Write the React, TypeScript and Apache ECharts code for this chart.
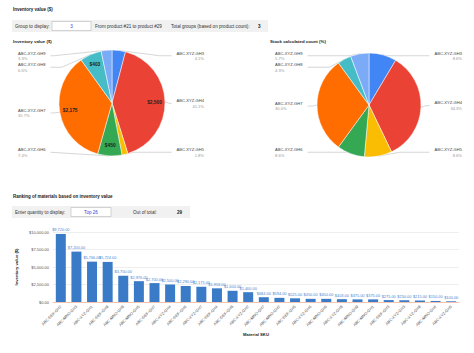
import React, { useEffect, useRef } from "react";
import * as echarts from "echarts";

const pieNames = ["ABC-XYZ-GH3", "ABC-XYZ-GH4", "ABC-XYZ-GH5", "ABC-XYZ-GH6", "ABC-XYZ-GH7", "ABC-XYZ-GH8", "ABC-XYZ-GH9"];
const inventoryValues = [250, 2500, 110, 450, 2175, 403, 200];
const stockCounts = [6, 24, 6, 6, 21, 3, 4];
const pieColors = ["#4285F4", "#EA4335", "#FBBC04", "#34A853", "#FF6D01", "#46BDC6", "#7BAAF7"];

const skuCategories = [
  "ABC-DEF-GH2", "ABC-MNO-GH3", "ABC-XYZ-GH1", "ABC-DEF-GH9", "ABC-MNO-GH8", "ABC-MNO-GH5",
  "ABC-DEF-GH7", "ABC-XYZ-GH4", "ABC-DEF-GH6", "ABC-XYZ-GH7", "ABC-DEF-GH4", "ABC-DEF-GH8",
  "ABC-XYZ-GH2", "ABC-MNO-GH7", "ABC-MNO-GH2", "ABC-DEF-GH5", "ABC-XYZ-GH6", "ABC-MNO-GH6",
  "ABC-XYZ-GH8", "ABC-MNO-GH9", "ABC-MNO-GH1", "ABC-DEF-GH3", "ABC-XYZ-GH3", "ABC-XYZ-GH9",
  "ABC-MNO-GH4", "ABC-XYZ-GH5",
];
const skuValues = [
  9720, 7200, 5766, 5724, 3750, 2976, 2700, 2500, 2290, 2175, 1953, 1600, 1400,
  684, 594, 525, 450, 450, 403, 375, 375, 275, 250, 215, 150, 100,
];
const yTicks = [0, 2500, 5000, 7500, 10000];

const FONT = "Liberation Sans, Arial, sans-serif";

const money2 = (v: number) =>
  "$" + v.toLocaleString("en-US", { minimumFractionDigits: 2, maximumFractionDigits: 2 });
const money0 = (v: number) => "$" + v.toLocaleString("en-US");

export default function App() {
  const ref = useRef<HTMLDivElement>(null);
  useEffect(() => {
    if (!ref.current) return;
    const chart = echarts.init(ref.current, null, { renderer: "svg" });
    const pieLabel = {
      show: true,
      position: "outside",
      alignTo: "edge",
      edgeDistance: 0,
      overflow: "none",
      formatter: (p: any) => `{n|${p.name}}\n{p|${p.percent.toFixed(1)}%}`,
      rich: {
        n: { fontSize: 4.1, color: "#444", fontFamily: FONT, lineHeight: 5.5 },
        p: { fontSize: 4.1, color: "#999", fontFamily: FONT, lineHeight: 5.5 },
      },
    };
    const pieLabelLine = { show: true, length: 5, length2: 5, lineStyle: { color: "#bbb", width: 0.6 } };
    const txt = (x: number, y: number, text: string, opts: any = {}) => ({
      type: "text",
      x,
      y,
      style: {
        text,
        fontSize: opts.size ?? 4.6,
        fontWeight: opts.bold ? "bold" : "normal",
        fill: opts.color ?? "#333",
        fontFamily: FONT,
        textAlign: opts.align ?? "left",
        textVerticalAlign: "middle",
      },
    });
    chart.setOption({
      animation: false,
      backgroundColor: "#ffffff",
      graphic: [
        txt(13, 9, "Inventory value ($)", { bold: true, size: 4.5, color: "#222" }),
        { type: "rect", shape: { x: 12, y: 20, width: 256, height: 12 }, style: { fill: "#f1f1f1" } },
        { type: "rect", shape: { x: 52, y: 21.5, width: 39, height: 9 }, style: { fill: "#fff", stroke: "#b8b8b8", lineWidth: 0.6 } },
        txt(15, 26, "Group to display:"),
        txt(71.5, 26, "3", { color: "#3b3bd6", align: "center" }),
        txt(95, 26, "From product #21 to product #29"),
        txt(171, 26, "Total groups (based on product count):"),
        txt(258, 26, "3", { bold: true, color: "#222" }),
        txt(13, 41, "Inventory value ($)", { bold: true, size: 4.4, color: "#222" }),
        txt(270, 41, "Stock calculated count (%)", { bold: true, size: 4.4, color: "#222" }),
        txt(13, 196, "Ranking of materials based on inventory value", { bold: true, size: 4.5, color: "#222" }),
        { type: "rect", shape: { x: 12, y: 206, width: 178, height: 12 }, style: { fill: "#f1f1f1" } },
        { type: "rect", shape: { x: 71, y: 207.5, width: 40, height: 9 }, style: { fill: "#fff", stroke: "#b8b8b8", lineWidth: 0.6 } },
        txt(15, 212, "Enter quantity to display:"),
        txt(91, 212, "Top 26", { color: "#3b3bd6", align: "center" }),
        txt(133, 212, "Out of total:"),
        txt(177, 212, "29", { bold: true, color: "#222" }),
      ],
      grid: { left: 53, top: 232, width: 406, height: 70 },
      xAxis: {
        type: "category",
        data: skuCategories,
        axisTick: { show: false },
        axisLine: { show: true, lineStyle: { color: "#f2b9a0", width: 0.8 } },
        axisLabel: { rotate: 45, fontSize: 3.9, color: "#555", fontFamily: FONT, interval: 0, margin: 4 },
        name: "Material SKU",
        nameLocation: "middle",
        nameGap: 30,
        nameTextStyle: { fontSize: 4.2, fontWeight: "bold", color: "#222", fontFamily: FONT },
      },
      yAxis: {
        type: "value",
        min: yTicks[0],
        max: yTicks[yTicks.length - 1],
        interval: yTicks[1] - yTicks[0],
        axisLabel: { fontSize: 4, color: "#555", fontFamily: FONT, formatter: (v: number) => money2(v), margin: 4 },
        splitLine: { lineStyle: { color: "#e3e3e3", width: 0.6 } },
        name: "Inventory value ($)",
        nameLocation: "middle",
        nameGap: 29,
        nameTextStyle: { fontSize: 4.2, fontWeight: "bold", color: "#222", fontFamily: FONT },
      },
      series: [
        {
          type: "pie",
          left: 18,
          top: 50,
          width: 186,
          height: 108,
          center: [94, 53],
          radius: 53,
          startAngle: 90,
          clockwise: true,
          data: pieNames.map((n, i) => ({ name: n, value: inventoryValues[i], itemStyle: { color: pieColors[i] } })),
          label: pieLabel,
          labelLine: pieLabelLine,
          itemStyle: { borderColor: "#fff", borderWidth: 0.5 },
          emphasis: { disabled: true },
        },
        {
          type: "pie",
          left: 18,
          top: 50,
          width: 186,
          height: 108,
          center: [94, 53],
          radius: [26, 53],
          startAngle: 90,
          clockwise: true,
          silent: true,
          data: pieNames.map((n, i) => ({ name: n, value: inventoryValues[i] })),
          itemStyle: { color: "rgba(0,0,0,0)" },
          label: {
            show: true,
            position: "inside",
            fontSize: 4.8,
            fontWeight: "bold",
            color: "#222",
            fontFamily: FONT,
            formatter: (p: any) => (p.percent >= 5 ? money0(p.value) : ""),
          },
          labelLine: { show: false },
          emphasis: { disabled: true },
        },
        {
          type: "pie",
          left: 275,
          top: 50,
          width: 187,
          height: 108,
          center: [94, 55],
          radius: 52,
          startAngle: 90,
          clockwise: true,
          data: pieNames.map((n, i) => ({ name: n, value: stockCounts[i], itemStyle: { color: pieColors[i] } })),
          label: pieLabel,
          labelLine: pieLabelLine,
          itemStyle: { borderColor: "#fff", borderWidth: 0.5 },
          emphasis: { disabled: true },
        },
        {
          type: "bar",
          data: skuValues,
          barWidth: 10,
          itemStyle: { color: "#3a7bc8" },
          label: {
            show: true,
            position: "top",
            distance: 2,
            fontSize: 3.9,
            color: "#4a86cf",
            fontFamily: FONT,
            formatter: (p: any) => money2(p.value),
          },
          emphasis: { disabled: true },
        },
      ],
    });
    return () => chart.dispose();
  }, []);
  return (
    <div
      ref={ref}
      style={{ position: "absolute", left: 0, top: 0, width: 474, height: 353, background: "#fff" }}
    />
  );
}
